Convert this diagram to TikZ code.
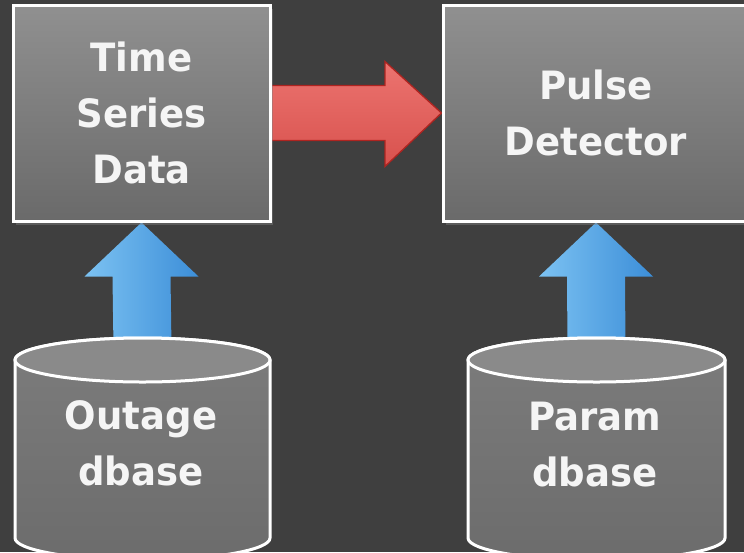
\documentclass[tikz,border=0pt]{standalone}
\usepackage{fontspec}
\newfontfamily\diagfont[FakeStretch=0.95]{DejaVu Sans}
\usetikzlibrary{calc,shadows}
\pgfdeclarelayer{back}
\pgfdeclarelayer{bg}
\pgfsetlayers{back,bg,main}
\definecolor{bgc}{HTML}{3F3F3F}
\definecolor{boxtop}{HTML}{909090}
\definecolor{boxbot}{HTML}{6A6A6A}
\definecolor{cyltop}{HTML}{8A8A8A}
\definecolor{cylmid}{HTML}{7C7C7C}
\definecolor{cylbot}{HTML}{6C6C6C}
\definecolor{redtop}{HTML}{EC7470}
\definecolor{redbot}{HTML}{D8514D}
\definecolor{redline}{HTML}{AE2420}
\definecolor{bluel}{HTML}{7CC2F2}
\definecolor{bluer}{HTML}{3C8ED8}
\definecolor{txt}{HTML}{F5F5F5}
\begin{document}
\begin{tikzpicture}[x=1pt,y=1pt,
  lbl/.style={align=center, text=txt, font=\diagfont\bfseries\fontsize{39}{56}\selectfont},
  box/.style={lbl, draw=white, line width=3pt, top color=boxtop, bottom color=boxbot,
    minimum height=216pt, inner sep=0pt,
    drop shadow={opacity=0.45, shadow xshift=3pt, shadow yshift=-4pt}},
  cylbody/.style={draw=white, line width=3pt, top color=cylmid, bottom color=cylbot},
  cyltopface/.style={draw=white, line width=3pt, fill=cyltop},
  redarrow/.style={draw=redline, line width=1.3pt, line join=miter, top color=redtop, bottom color=redbot},
  bluearrow/.style={left color=bluel, right color=bluer}
]
\useasboundingbox (0,0) rectangle (744,-552);
\begin{pgfonlayer}{back}
\fill[bgc] (0,0) rectangle (744,-552);
\end{pgfonlayer}

% boxes
\node[box, minimum width=257pt] (ts) at (141.5,-113) {Time\\Series\\Data};
\node[box, minimum width=306pt] (pd) at (596,-113) {Pulse\\Detector};

% cylinders
\path[cylbody] (15,-360) -- (15,-538) arc[start angle=180,end angle=360,x radius=127.5,y radius=22]
  -- (270,-360) arc[start angle=0,end angle=180,x radius=127.5,y radius=22] -- cycle;
\path[cyltopface] (142.5,-360) ellipse[x radius=127.5,y radius=22];
\coordinate (odtop) at (142.5,-338);
\node[lbl] (od) at (141,-443) {Outage\\dbase};

\path[cylbody] (468,-360) -- (468,-538) arc[start angle=180,end angle=360,x radius=128.5,y radius=22]
  -- (725,-360) arc[start angle=0,end angle=180,x radius=128.5,y radius=22] -- cycle;
\path[cyltopface] (596.5,-360) ellipse[x radius=128.5,y radius=22];
\coordinate (pdbtop) at (596.5,-338);
\node[lbl] (pdb) at (595,-445) {Param\\dbase};

% connectors
\begin{pgfonlayer}{bg}
\path[redarrow] ($(ts.east)+(-6,27.5)$) -- ($(ts.east)+(113.5,27.5)$) -- ($(ts.east)+(113.5,51.5)$)
  -- (pd.west) -- ($(ts.east)+(113.5,-53.5)$) -- ($(ts.east)+(113.5,-27.5)$) -- ($(ts.east)+(-6,-27.5)$) -- cycle;
\path[bluearrow] ($(odtop)+(-29,-10)$) -- ($(ts.south)+(-29,-54)$) -- ($(ts.south)+(-57,-54)$)
  -- (ts.south) -- ($(ts.south)+(57,-54)$) -- ($(ts.south)+(29,-54)$) -- ($(odtop)+(29,-10)$) -- cycle;
\path[bluearrow] ($(pdbtop)+(-29,-10)$) -- ($(pd.south)+(-29,-54)$) -- ($(pd.south)+(-57,-54)$)
  -- (pd.south) -- ($(pd.south)+(57,-54)$) -- ($(pd.south)+(29,-54)$) -- ($(pdbtop)+(29,-10)$) -- cycle;
\end{pgfonlayer}
\end{tikzpicture}
\end{document}
